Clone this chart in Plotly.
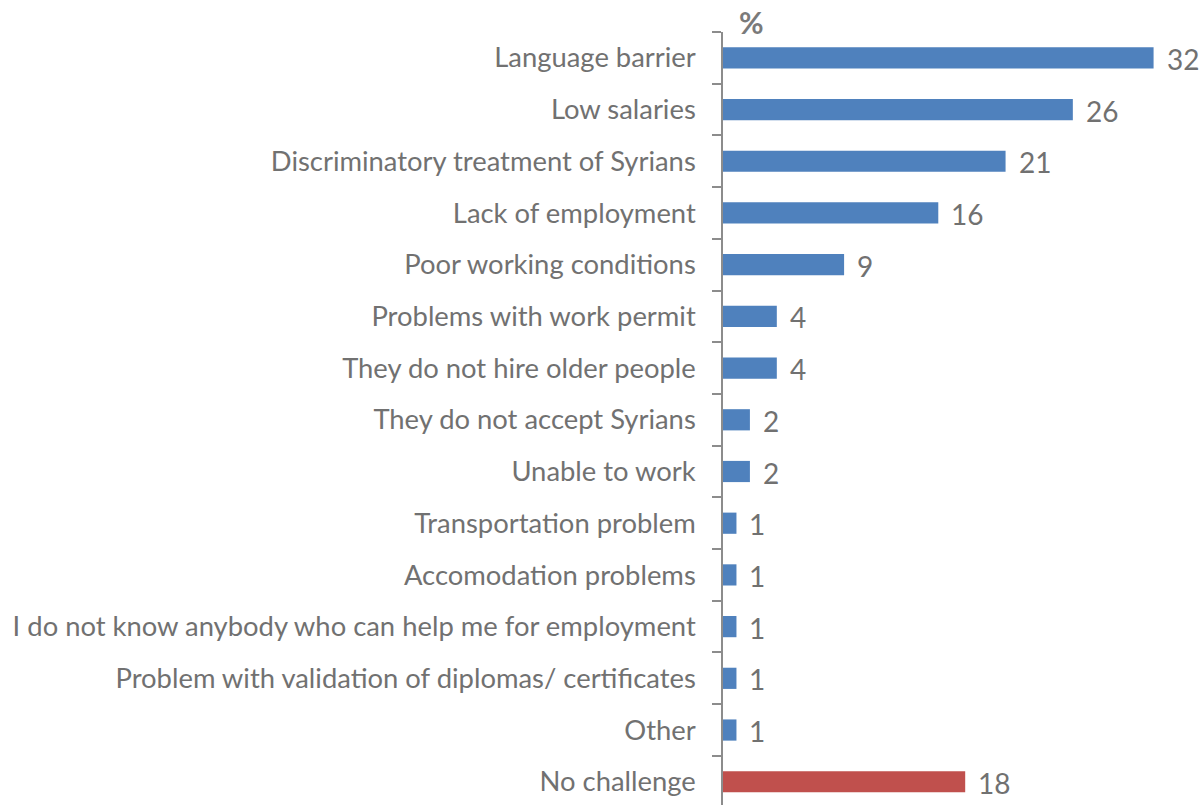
import plotly.graph_objects as go

# Reported challenges in finding employment (% of respondents)
categories = [
    "Language barrier",
    "Low salaries",
    "Discriminatory treatment of Syrians",
    "Lack of employment",
    "Poor working conditions",
    "Problems with work permit",
    "They do not hire older people",
    "They do not accept Syrians",
    "Unable to work",
    "Transportation problem",
    "Accomodation problems",
    "I do not know anybody who can help me for employment",
    "Problem with validation of diplomas/ certificates",
    "Other",
    "No challenge",
]
values = [32, 26, 21, 16, 9, 4, 4, 2, 2, 1, 1, 1, 1, 1, 18]

BLUE = "#4f81bd"
RED = "#c0504d"
GREY_TEXT = "#717171"
AXIS_GREY = "#8c8c8c"
FONT = "Lato, 'Open Sans', sans-serif"

colors = [RED if c == "No challenge" else BLUE for c in categories]

fig = go.Figure(
    go.Bar(
        x=values,
        y=categories,
        orientation="h",
        width=0.41,
        marker=dict(color=colors, line=dict(width=0)),
        hoverinfo="skip",
    )
)

# value labels placed just beyond each bar end
for c, v in zip(categories, values):
    fig.add_annotation(
        x=v, y=c, xref="x", yref="y",
        text=str(v), showarrow=False,
        xanchor="left", yanchor="middle", xshift=11, yshift=-1,
        font=dict(family=FONT, size=28, color=GREY_TEXT),
    )

# unit marker above the axis
fig.add_annotation(
    x=0, y=1, xref="x", yref="paper",
    text="<b>%</b>", showarrow=False,
    xanchor="center", yanchor="middle", xshift=28, yshift=10,
    font=dict(family="Lato, sans-serif", size=30, color="#7a7a7a"),
)

fig.update_layout(
    width=1200,
    height=805,
    margin=dict(l=723, r=0, t=32, b=0, autoexpand=False),
    paper_bgcolor="white",
    plot_bgcolor="white",
    showlegend=False,
    bargap=0.59,
    xaxis=dict(
        range=[0, 35.45],
        visible=False,
        showgrid=False,
        zeroline=False,
    ),
    yaxis=dict(
        type="category",
        range=[14.45, -0.5],
        showgrid=False,
        zeroline=False,
        showline=True,
        linecolor=AXIS_GREY,
        linewidth=1.5,
        ticks="outside",
        tickson="boundaries",
        ticklen=9,
        tickwidth=1.5,
        tickcolor=AXIS_GREY,
        ticklabelstandoff=20,
        tickfont=dict(family=FONT, size=27.4, color=GREY_TEXT),
        automargin=False,
    ),
)

fig.write_html("out.html")
